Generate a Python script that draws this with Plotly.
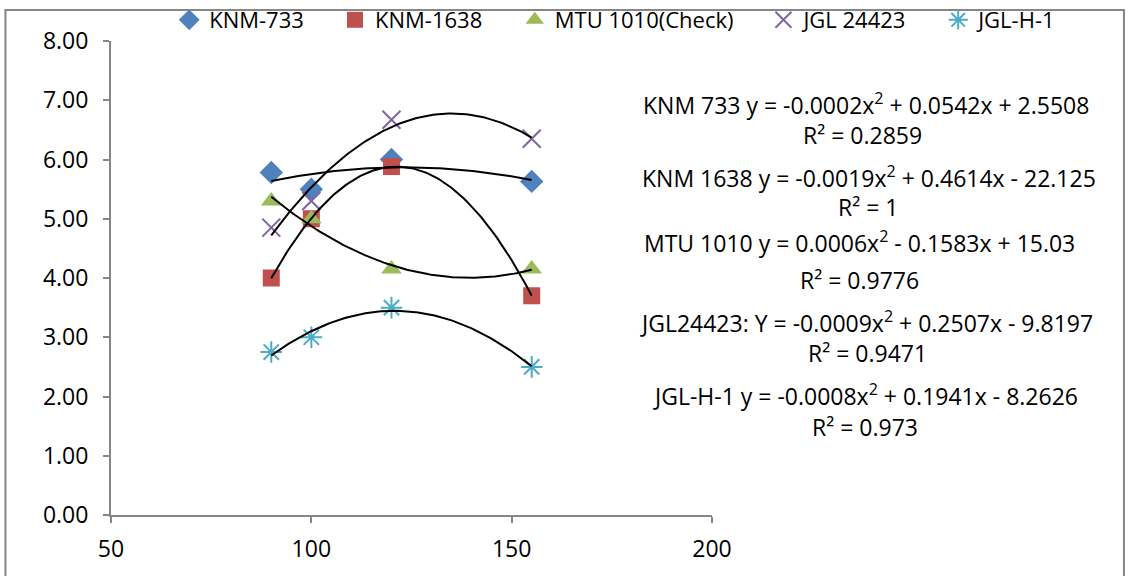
import numpy as np
import plotly.graph_objects as go

# ---- data ----
x_vals = [90, 100, 120, 155]
knm733 = [5.78, 5.50, 6.00, 5.63]
knm1638 = [4.00, 5.00, 5.88, 3.70]
mtu1010 = [5.30, 5.00, 4.15, 4.15]
jgl24423 = [4.85, 5.30, 6.67, 6.35]
jglh1 = [2.75, 3.00, 3.50, 2.50]

series_names = ["KNM-733", "KNM-1638", "MTU 1010(Check)", "JGL 24423", "JGL-H-1"]
series_vals = [knm733, knm1638, mtu1010, jgl24423, jglh1]
eq_lines = [
    "KNM 733 y = -0.0002x<sup>2</sup> + 0.0542x + 2.5508",
    "R² = 0.2859",
    "KNM 1638 y = -0.0019x<sup>2</sup> + 0.4614x - 22.125",
    "R² = 1",
    "MTU 1010 y = 0.0006x<sup>2</sup> - 0.1583x + 15.03",
    "R² = 0.9776",
    "JGL24423: Y = -0.0009x<sup>2</sup> + 0.2507x - 9.8197",
    "R² = 0.9471",
    "JGL-H-1 y = -0.0008x<sup>2</sup> + 0.1941x - 8.2626",
    "R² = 0.973",
]
x_ticks = [50, 100, 150, 200]
y_ticks = [0, 1, 2, 3, 4, 5, 6, 7, 8]

# ---- style ----
W, H = 1129, 576
L, R_px, T, B_px = 110.7, 712.5, 41.0, 514.7
pw, ph = R_px - L, B_px - T
FONT = "Open Sans"
FS = 23
AX = "#868686"

def px2x(px):
    return (px - L) / pw

def px2y(py):
    return (B_px - py) / ph

styles = [
    dict(symbol="diamond", color="#4F81BD", size=18, lw=0),
    dict(symbol="square", color="#C0504D", size=17, lw=0),
    dict(symbol="triangle-up", color="#9BBB59", size=18, lw=0),
    dict(symbol="x-thin", color="#8064A2", size=18, lw=2),
    dict(symbol="asterisk", color="#4BACC6", size=18, lw=2),
]
legend_sym_px = [187, 353, 533, 782, 957]

fig = go.Figure()
for i, (name, vals, st) in enumerate(zip(series_names, series_vals, styles)):
    lg = "legend" if i == 0 else f"legend{i+1}"
    mk = dict(symbol=st["symbol"], color=st["color"], size=st["size"])
    if st["lw"]:
        mk["line"] = dict(color=st["color"], width=st["lw"])
    fig.add_trace(go.Scatter(x=x_vals, y=vals, mode="markers", name=name,
                             marker=mk, legend=lg))

# polynomial (order 2) trendlines derived from the data
for vals in series_vals:
    c = np.polyfit(x_vals, vals, 2)
    xs = np.linspace(min(x_vals), max(x_vals), 120)
    fig.add_trace(go.Scatter(x=xs, y=np.polyval(c, xs), mode="lines",
                             line=dict(color="black", width=2),
                             showlegend=False, hoverinfo="skip"))

layout_legends = {}
for i, sp in enumerate(legend_sym_px):
    key = "legend" if i == 0 else f"legend{i+1}"
    layout_legends[key] = dict(
        x=px2x(sp - 18), y=px2y(20), xanchor="left", yanchor="middle",
        orientation="h", bgcolor="rgba(0,0,0,0)", borderwidth=0,
        font=dict(family=FONT, size=FS - 1, color="black"),
        itemclick=False, itemdoubleclick=False,
    )

eq_pos = [(867, 104), (863, 135), (870, 177), (869, 207), (860, 242),
          (860, 280), (867, 322), (868, 353), (866, 395), (866, 427)]
annotations = []
for txt, (ax_, ay_) in zip(eq_lines, eq_pos):
    annotations.append(dict(text=txt, x=px2x(ax_), y=px2y(ay_), xref="paper", yref="paper",
                            xanchor="center", yanchor="middle", showarrow=False,
                            font=dict(family=FONT, size=FS, color="black")))

shapes = [dict(type="rect", xref="paper", yref="paper",
               x0=px2x(5), x1=px2x(1125), y0=px2y(590), y1=px2y(10),
               line=dict(color=AX, width=2), fillcolor="rgba(0,0,0,0)", layer="below")]

fig.update_layout(
    width=W, height=H,
    margin=dict(l=L, r=W - R_px, t=T, b=H - B_px, autoexpand=False),
    paper_bgcolor="white", plot_bgcolor="white",
    font=dict(family=FONT, size=FS, color="black"),
    xaxis=dict(range=[50, 200], tickvals=x_ticks, showgrid=False, zeroline=False,
               showline=True, linecolor=AX, linewidth=2, ticks="outside",
               tickcolor=AX, ticklen=6, tickwidth=2, ticklabelstandoff=6,
               tickfont=dict(family=FONT, size=FS, color="black")),
    yaxis=dict(range=[0, 8], tickvals=y_ticks, tickformat=".2f", showgrid=False,
               zeroline=False, showline=True, linecolor=AX, linewidth=2,
               ticks="outside", tickcolor=AX, ticklen=6, tickwidth=2,
               ticklabelstandoff=10,
               tickfont=dict(family=FONT, size=FS, color="black")),
    annotations=annotations,
    shapes=shapes,
    **layout_legends,
)

fig.write_html("out.html")
